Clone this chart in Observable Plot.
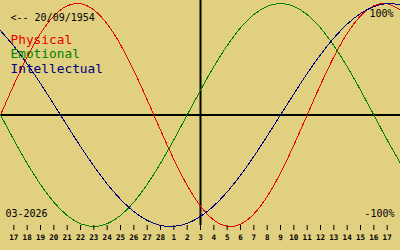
<!DOCTYPE html>
<html><head><meta charset="utf-8">
<script src="https://cdn.jsdelivr.net/npm/d3@7"></script>
<script src="https://cdn.jsdelivr.net/npm/@observablehq/plot@0.6"></script>
<style>
html,body{margin:0;padding:0;background:#e0d080;}
#chart svg{display:block;}
</style></head><body><div id="chart"></div>
<script>
// day offsets relative to 3 March 2026 (centre line)
const dayOffsets = [-15,-14,-13,-12,-11,-10,-9,-8,-7,-6,-5,-4,-3,-2,-1,0,1,2,3,4,5,6,7,8,9,10,11,12,13,14,15];
const tickOffsets = [-14,-13,-12,-11,-10,-9,-8,-7,-6,-5,-4,-3,-2,-1,0,1,2,3,4,5,6,7,8,9,10,11,12,13,14];
const tickLabels = ["17","18","19","20","21","22","23","24","25","26","27","28","1","2","3","4","5","6","7","8","9","10","11","12","13","14","15","16","17"];
const physical = [0,0.270,0.520,0.731,0.888,0.979,0.998,0.942,0.817,0.631,0.398,0.136,-0.136,-0.398,-0.631,-0.817,-0.942,-0.998,-0.979,-0.888,-0.731,-0.520,-0.270,0,0.270,0.520,0.731,0.888,0.979,0.998,0.942];
const emotional = [0,-0.223,-0.434,-0.623,-0.782,-0.901,-0.975,-1,-0.975,-0.901,-0.782,-0.623,-0.434,-0.223,0,0.223,0.434,0.623,0.782,0.901,0.975,1,0.975,0.901,0.782,0.623,0.434,0.223,0,-0.223,-0.434];
const intellectual = [0.756,0.618,0.458,0.282,0.095,-0.095,-0.282,-0.458,-0.618,-0.756,-0.866,-0.945,-0.990,-0.999,-0.972,-0.910,-0.815,-0.690,-0.541,-0.372,-0.189,0,0.189,0.372,0.541,0.690,0.815,0.910,0.972,0.999,0.990];
const seriesNames = ["Physical","Emotional","Intellectual"];
const seriesColors = ["#e80000","#008000","#000080"];
const birthLabel = "<-- 20/09/1954";
const monthLabel = "03-2026";
const topLabel = "100%";
const bottomLabel = "-100%";

const seriesValues = [physical, emotional, intellectual];
const rows = [];
seriesNames.forEach((s, i) => dayOffsets.forEach((d, j) => rows.push({s, d, v: seriesValues[i][j]})));

const legendMarks = seriesNames.map((name, i) =>
  Plot.text([name], {frameAnchor: "top-left", dx: 10, dy: 43 + i * 14.5, lineAnchor: "bottom",
    textAnchor: "start", fontSize: 12.8, fill: seriesColors[i]}));

const chart = Plot.plot({
  width: 400, height: 250,
  marginLeft: 0, marginRight: 0, marginTop: 0, marginBottom: 25,
  x: {domain: [-15, 15], range: [0, 400], axis: null},
  y: {domain: [-1, 1], range: [226, 3], axis: null},
  color: {domain: seriesNames, range: seriesColors},
  style: {background: "#e0d080", fontFamily: "DejaVu Sans Mono", color: "black"},
  marks: [
    Plot.ruleY([0], {stroke: "black", strokeWidth: 2}),
    Plot.ruleX([0], {stroke: "black", strokeWidth: 2}),
    Plot.line(rows, {x: "d", y: "v", z: "s", stroke: "s", curve: "natural", strokeWidth: 1, shapeRendering: "crispEdges"}),
    Plot.axisX(tickOffsets, {anchor: "bottom", label: null, tickSize: 5, tickPadding: 4,
      tickFormat: d => tickLabels[tickOffsets.indexOf(d)], fontSize: 7.6, fontWeight: "bold",
      fontFamily: "'DejaVu Sans Mono', monospace"}),
    Plot.text([birthLabel], {frameAnchor: "top-left", dx: 10, dy: 20.5, lineAnchor: "bottom", textAnchor: "start", fontSize: 10, fill: "black"}),
    ...legendMarks,
    Plot.text([topLabel], {frameAnchor: "top-right", dx: -7, dy: 16, lineAnchor: "bottom", textAnchor: "end", fontSize: 10, fill: "black"}),
    Plot.text([bottomLabel], {frameAnchor: "top-right", dx: -6, dy: 216, lineAnchor: "bottom", textAnchor: "end", fontSize: 10, fill: "black"}),
    Plot.text([monthLabel], {frameAnchor: "top-left", dx: 5, dy: 216, lineAnchor: "bottom", textAnchor: "start", fontSize: 10, fill: "black"})
  ]
});
document.getElementById("chart").appendChild(chart);
</script></body></html>
